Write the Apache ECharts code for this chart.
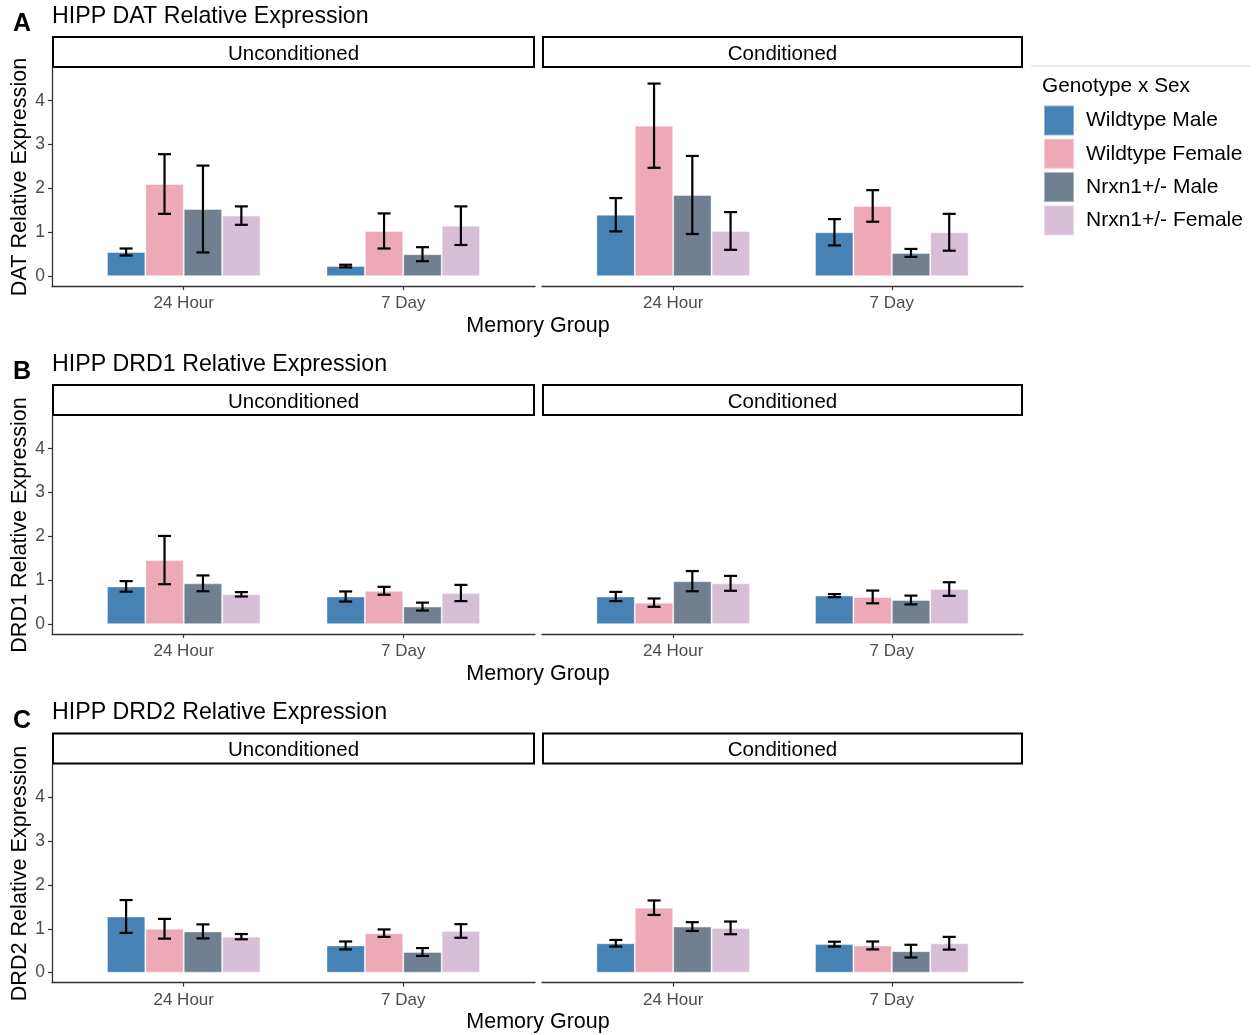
<!DOCTYPE html>
<html>
<head>
<meta charset="utf-8">
<script src="https://cdn.jsdelivr.net/npm/echarts@6/dist/echarts.min.js"></script>
<style>
  html, body { margin: 0; background: #fff; }
  #chart { width: 1256px; height: 1035px; }
</style>
</head>
<body>
<div id="chart"></div>
<script>
const categories = ['24 Hour', '7 Day'];
const groups = ['Wildtype Male', 'Wildtype Female', 'Nrxn1+/- Male', 'Nrxn1+/- Female'];
const colors = ['#4682B4', '#EEA9B8', '#708090', '#D8BFD8'];
const facets = ['Unconditioned', 'Conditioned'];
const panelLetters = ['A', 'B', 'C'];
const panelTitles = ['HIPP DAT Relative Expression', 'HIPP DRD1 Relative Expression', 'HIPP DRD2 Relative Expression'];
const yTitles = ['DAT Relative Expression', 'DRD1 Relative Expression', 'DRD2 Relative Expression'];
const xTitle = 'Memory Group';
const legendTitle = 'Genotype x Sex';
const yTicks = [0, 1, 2, 3, 4];

// one row per group, values for [24 Hour, 7 Day]
const datUncond = [[0.55, 0.23], [2.10, 1.03], [1.53, 0.50], [1.38, 1.15]];
const datUncondSe = [[0.08, 0.03], [0.68, 0.40], [0.99, 0.16], [0.21, 0.44]];
const datCond = [[1.40, 1.00], [3.43, 1.60], [1.85, 0.53], [1.03, 1.00]];
const datCondSe = [[0.38, 0.30], [0.96, 0.36], [0.89, 0.09], [0.43, 0.42]];

const drd1Uncond = [[0.86, 0.63], [1.46, 0.76], [0.93, 0.40], [0.68, 0.71]];
const drd1UncondSe = [[0.12, 0.115], [0.55, 0.09], [0.18, 0.09], [0.05, 0.185]];
const drd1Cond = [[0.63, 0.65], [0.49, 0.62], [0.98, 0.55], [0.93, 0.80]];
const drd1CondSe = [[0.105, 0.035], [0.095, 0.145], [0.23, 0.10], [0.17, 0.155]];

const drd2Uncond = [[1.28, 0.62], [1.00, 0.90], [0.94, 0.47], [0.82, 0.95]];
const drd2UncondSe = [[0.375, 0.09], [0.225, 0.085], [0.16, 0.09], [0.06, 0.155]];
const drd2Cond = [[0.67, 0.65], [1.48, 0.62], [1.05, 0.49], [1.02, 0.67]];
const drd2CondSe = [[0.075, 0.055], [0.165, 0.09], [0.10, 0.145], [0.145, 0.145]];

const panels = [
  [[datUncond, datUncondSe], [datCond, datCondSe]],
  [[drd1Uncond, drd1UncondSe], [drd1Cond, drd1CondSe]],
  [[drd2Uncond, drd2UncondSe], [drd2Cond, drd2CondSe]]
];

const FONT = '"Liberation Sans", Arial, sans-serif';
const rowTops = [68, 416, 764.5];
const plotH = 218;
const facetLeft = [52, 542];
const facetWidth = [483, 481];
const dodge = 0.175;

function renderErr(params, api) {
  const x = api.value(0);
  const lo = api.coord([x, api.value(1)]);
  const hi = api.coord([x, api.value(2)]);
  const w = 6.5;
  const style = { stroke: '#000', lineWidth: 2.2, fill: 'none' };
  return {
    type: 'group',
    children: [
      { type: 'line', shape: { x1: hi[0], y1: hi[1], x2: lo[0], y2: lo[1] }, style },
      { type: 'line', shape: { x1: hi[0] - w, y1: hi[1], x2: hi[0] + w, y2: hi[1] }, style },
      { type: 'line', shape: { x1: lo[0] - w, y1: lo[1], x2: lo[0] + w, y2: lo[1] }, style }
    ]
  };
}

const grid = [];
const xAxis = [];
const yAxis = [];
const series = [];
const graphic = [];

panels.forEach((row, r) => {
  const top = rowTops[r];
  const off = top - 68;

  graphic.push(
    { type: 'text', left: 13, top: 12 + off, style: { text: panelLetters[r], font: 'bold 25px ' + FONT, fill: '#000' } },
    { type: 'text', x: 52, y: 16.5 + off, style: { text: panelTitles[r], font: '23.2px ' + FONT, fill: '#000', verticalAlign: 'middle' } },
    { type: 'text', x: 20.5, y: top + plotH / 2, rotation: Math.PI / 2,
      style: { text: yTitles[r], font: '21.6px ' + FONT, fill: '#000', align: 'center', verticalAlign: 'middle' } },
    { type: 'text', x: 538, y: 326 + off, style: { text: xTitle, font: '21.5px ' + FONT, fill: '#000', align: 'center', verticalAlign: 'middle' } }
  );

  row.forEach(([mean, se], f) => {
    const gi = r * 2 + f;
    grid.push({ left: facetLeft[f], width: facetWidth[f], top: top, height: plotH });

    graphic.push(
      { type: 'rect', shape: { x: facetLeft[f] + 1, y: top - 31, width: facetWidth[f] - 2, height: 30 },
        style: { fill: '#fff', stroke: '#000', lineWidth: 2 } },
      { type: 'text', x: facetLeft[f] + facetWidth[f] / 2, y: top - 14,
        style: { text: facets[f], font: '20.5px ' + FONT, fill: '#000', align: 'center', verticalAlign: 'middle' } }
    );

    xAxis.push({
      gridIndex: gi,
      type: 'value',
      min: 0.4,
      max: 2.6,
      position: 'bottom',
      axisLine: { show: true, onZero: false, lineStyle: { color: '#333', width: 1.3 } },
      axisTick: { show: true, length: 4, customValues: [1, 2], lineStyle: { color: '#333', width: 1.2 } },
      axisLabel: {
        customValues: [1, 2],
        formatter: v => categories[Math.round(v) - 1],
        color: '#4D4D4D', fontSize: 17, fontFamily: FONT, margin: 9
      },
      splitLine: { show: false }
    });

    yAxis.push({
      gridIndex: gi,
      type: 'value',
      min: -0.225,
      max: 4.745,
      axisLine: { show: f === 0, lineStyle: { color: '#333', width: 1.3 } },
      axisTick: { show: f === 0, length: 4, customValues: yTicks, lineStyle: { color: '#333', width: 1.2 } },
      axisLabel: { show: f === 0, customValues: yTicks, color: '#4D4D4D', fontSize: 17.5, fontFamily: FONT, margin: 7 },
      splitLine: { show: false }
    });

    groups.forEach((g, i) => {
      series.push({
        type: 'bar',
        name: g,
        xAxisIndex: gi,
        yAxisIndex: gi,
        barWidth: 38.4,
        barGap: '0%',
        itemStyle: { color: colors[i], borderColor: 'rgba(255,255,255,0.4)', borderWidth: 1 },
        data: mean[i].map((v, c) => [c + 1, v])
      });
    });

    const errData = [];
    groups.forEach((g, i) => {
      mean[i].forEach((v, c) => {
        errData.push([c + 1 + (i - 1.5) * dodge, v - se[i][c], v + se[i][c]]);
      });
    });
    series.push({
      type: 'custom',
      xAxisIndex: gi,
      yAxisIndex: gi,
      renderItem: renderErr,
      encode: { x: 0, y: [1, 2] },
      data: errData,
      z: 10,
      silent: true
    });
  });
});

graphic.push(
  { type: 'line', shape: { x1: 1031, y1: 66, x2: 1250, y2: 66 }, style: { stroke: '#d9d9d9', lineWidth: 1 } },
  { type: 'text', x: 1042, y: 86, style: { text: legendTitle, font: '20.8px ' + FONT, fill: '#000', verticalAlign: 'middle' } }
);

const chart = echarts.init(document.getElementById('chart'));
chart.setOption({
  animation: false,
  backgroundColor: '#fff',
  grid,
  xAxis,
  yAxis,
  series,
  graphic,
  legend: {
    data: groups,
    orient: 'vertical',
    left: 1043,
    top: 104.5,
    padding: 0,
    itemWidth: 30,
    itemHeight: 30,
    itemGap: 1.3,
    icon: 'rect',
    selectedMode: false,
    textStyle: { fontSize: 21, fontFamily: FONT, color: '#000', padding: [0, 0, 0, 7] }
  }
});
</script>
</body>
</html>
